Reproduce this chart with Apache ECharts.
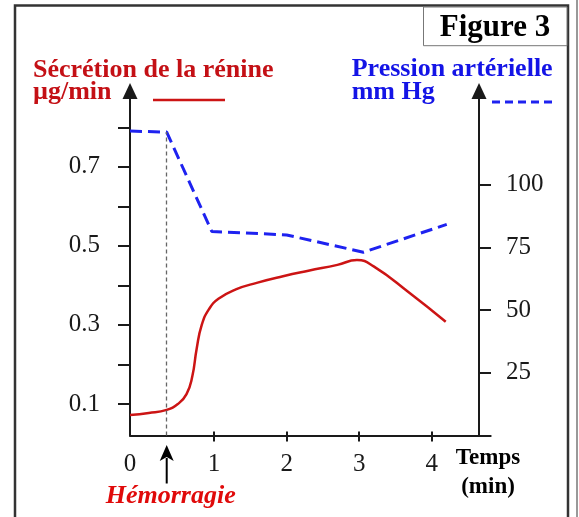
<!DOCTYPE html>
<html>
<head>
<meta charset="utf-8">
<script src="https://cdn.jsdelivr.net/npm/echarts@6/dist/echarts.min.js"></script>
<style>
  html, body { margin: 0; padding: 0; background: #fff; }
  #chart { width: 579px; height: 517px; }
</style>
</head>
<body>
<div id="chart"></div>
<script>
// Renin secretion (µg/min) over time (min)
var reninTime  = [-0.159, 0.1, 0.347, 0.5, 0.62, 0.70, 0.76, 0.83, 0.93, 1.06, 1.3, 1.6, 1.95, 2.3, 2.7, 2.97, 3.2, 3.7, 4.193];
var reninValue = [0.072, 0.077, 0.085, 0.100, 0.125, 0.170, 0.240, 0.300, 0.340, 0.366, 0.390, 0.407, 0.423, 0.437, 0.452, 0.464, 0.448, 0.380, 0.308];

// Arterial pressure (mm Hg) over time (min)
var pressureTime  = [-0.159, 0.347, 0.968, 2.0, 3.057, 4.207];
var pressureValue = [121.4, 121.0, 81.4, 80.0, 73.1, 84.2];

// Moment of the haemorrhage (min)
var hemorrhageTime = 0.347;

// Axis ranges and tick labels
var xMin = -0.159, xMax = 4.813;
var xTicks = [1, 2, 3, 4];
var xLabels = [xMin, 1, 2, 3, 4];
var reninMin = 0.0203, reninMax = 0.8918;
var reninTicks = [0.1, 0.2, 0.3, 0.4, 0.5, 0.6, 0.7, 0.8];
var reninLabels = [0.1, 0.3, 0.5, 0.7];
var pressureMin = 0, pressureMax = 137.4;
var pressureTicks = [25, 50, 75, 100];

var RED = '#cc1414';
var BLUE = '#1e22f0';
var INK = '#1a1a1a';
var SERIF = '"Liberation Serif", "DejaVu Serif", serif';

function zip(a, b) { return a.map(function (v, i) { return [v, b[i]]; }); }

var chart = echarts.init(document.getElementById('chart'), null, { renderer: 'canvas' });

var option = {
  animation: false,
  backgroundColor: '#fff',
  grid: { left: 130, right: 88.3, top: 91, bottom: 81.5 },
  xAxis: [
    {
      type: 'value', min: xMin, max: xMax, position: 'bottom',
      axisLine: { show: true, onZero: false, lineStyle: { color: INK, width: 2 } },
      axisTick: { show: true, inside: true, length: 4, customValues: xTicks, lineStyle: { color: INK, width: 2 } },
      axisLabel: {
        show: true, customValues: xLabels, margin: 16,
        color: INK, fontFamily: SERIF, fontSize: 25,
        formatter: function (v) { return v < 0 ? '0' : String(Math.round(v)); }
      },
      splitLine: { show: false }
    },
    {
      type: 'value', min: xMin, max: xMax, position: 'bottom',
      axisLine: { show: false, onZero: false },
      axisTick: { show: true, inside: false, length: 6, customValues: xTicks, lineStyle: { color: INK, width: 2 } },
      axisLabel: { show: false },
      splitLine: { show: false }
    }
  ],
  yAxis: [
    {
      type: 'value', position: 'left', min: reninMin, max: reninMax,
      axisLine: { show: true, onZero: false, symbol: ['none', 'triangle'], symbolSize: [15, 16], lineStyle: { color: INK, width: 2 } },
      axisTick: { show: true, length: 12, customValues: reninTicks, lineStyle: { color: INK, width: 2 } },
      axisLabel: { show: true, customValues: reninLabels, margin: 30, color: INK, fontFamily: SERIF, fontSize: 25 },
      splitLine: { show: false }
    },
    {
      type: 'value', position: 'right', offset: -11.7, min: pressureMin, max: pressureMax,
      axisLine: { show: true, onZero: false, symbol: ['none', 'triangle'], symbolSize: [15, 16], lineStyle: { color: INK, width: 2 } },
      axisTick: { show: true, length: 12, customValues: pressureTicks, lineStyle: { color: INK, width: 2 } },
      axisLabel: { show: true, customValues: pressureTicks, margin: 27, color: INK, fontFamily: SERIF, fontSize: 25 },
      splitLine: { show: false }
    }
  ],
  series: [
    {
      name: 'Sécrétion de la rénine', type: 'line',
      xAxisIndex: 0, yAxisIndex: 0,
      data: zip(reninTime, reninValue),
      smooth: 0.5,
      showSymbol: false, symbol: 'none',
      lineStyle: { color: RED, width: 2.5 },
      z: 3
    },
    {
      name: 'Pression artérielle', type: 'line',
      xAxisIndex: 0, yAxisIndex: 1,
      data: zip(pressureTime, pressureValue),
      showSymbol: false, symbol: 'none',
      lineStyle: { color: BLUE, width: 3, type: [12, 6] },
      markLine: {
        silent: true, symbol: 'none', animation: false,
        label: { show: false },
        lineStyle: { color: '#666', width: 1.3, type: [4, 3] },
        data: [[{ coord: [hemorrhageTime, pressureMin] }, { coord: [hemorrhageTime, pressureValue[1]] }]]
      },
      z: 2
    }
  ]
};

chart.setOption(option);

// Annotations: frame, figure tag, axis titles, legend keys, haemorrhage arrow
var hx = chart.convertToPixel({ xAxisIndex: 0 }, hemorrhageTime);
// x, baseline y, string, style; text is top-aligned so the top is moved up by ~0.78 em
var text = function (x, base, s, style) {
  var st = Object.assign({ text: s, fontFamily: SERIF, fontWeight: 'bold', fontSize: 26, verticalAlign: 'top' }, style);
  return { type: 'text', x: x, y: base - 0.78 * st.fontSize, style: st, silent: true };
};

chart.setOption({
  graphic: [
    { type: 'rect', shape: { x: 15, y: 5.5, width: 553, height: 530 }, style: { fill: 'none', stroke: '#333', lineWidth: 2.5 }, silent: true },
    { type: 'line', shape: { x1: 577, y1: 0, x2: 577, y2: 517 }, style: { stroke: '#999', lineWidth: 2 }, silent: true },
    { type: 'rect', shape: { x: 423.5, y: 7, width: 143.5, height: 38.7 }, style: { fill: '#fff', stroke: '#777', lineWidth: 1 }, silent: true },
    text(495, 37, 'Figure 3', { fill: '#000', fontSize: 31, align: 'center' }),

    text(33, 77.7, 'Sécrétion de la rénine', { fill: '#c41015' }),
    text(33, 100, 'µg/min', { fill: '#c41015' }),
    { type: 'line', shape: { x1: 153, y1: 100, x2: 225, y2: 100 }, style: { stroke: RED, lineWidth: 2.5 }, silent: true },

    text(351.7, 76.7, 'Pression artérielle', { fill: '#1414e6' }),
    text(351.7, 100, 'mm Hg', { fill: '#1414e6' }),
    { type: 'line', shape: { x1: 492, y1: 102, x2: 555, y2: 102 }, style: { stroke: BLUE, lineWidth: 3, lineDash: [8, 5] }, silent: true },

    text(488, 465, 'Temps', { fill: '#000', fontSize: 23, align: 'center' }),
    text(488, 493.3, '(min)', { fill: '#000', fontSize: 23, align: 'center' }),

    { type: 'line', shape: { x1: hx, y1: 458, x2: hx, y2: 483.5 }, style: { stroke: '#000', lineWidth: 2 }, silent: true },
    { type: 'polygon', shape: { points: [[hx, 445], [hx - 7, 461], [hx, 457], [hx + 7, 461]] }, style: { fill: '#000' }, silent: true },
    text(hx + 4, 503.5, 'Hémorragie', { fill: '#e00a0a', fontStyle: 'italic', align: 'center' })
  ]
});
</script>
</body>
</html>
